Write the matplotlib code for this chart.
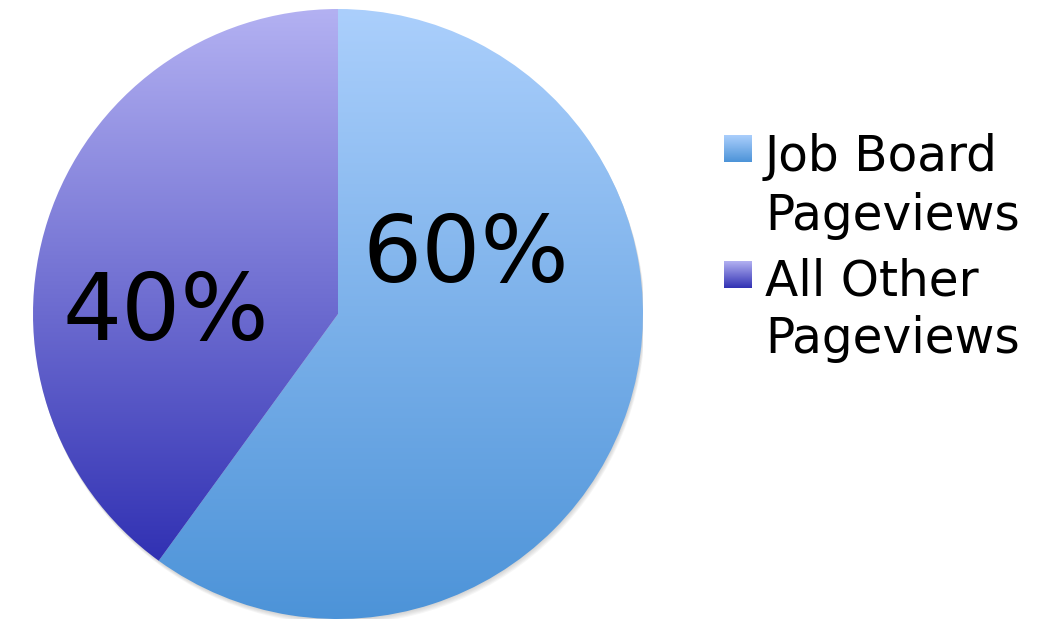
import numpy as np
import matplotlib.pyplot as plt
from matplotlib.patches import Circle
from matplotlib.colors import to_rgb

# share of pageviews
labels = ['Job Board\nPageviews', 'All Other\nPageviews']
values = [60, 40]
top_colors = ['#abcffc', '#b3b1f2']
bottom_colors = ['#4c93d8', '#3131b3']

W, H = 1044, 621


def gradient(top, bottom, n=256):
    t = np.linspace(0, 1, n)[:, None, None]
    a = np.array(to_rgb(top))[None, None, :]
    b = np.array(to_rgb(bottom))[None, None, :]
    return a * (1 - t) + b * t


fig = plt.figure(figsize=(W / 100, H / 100), dpi=100)

# pie axes, centre at (338, 314) px, radius 305 px
cx, cy, r = 338, 314, 305
ax = fig.add_axes([(cx - r) / W, (H - cy - r) / H, 2 * r / W, 2 * r / H])

# soft drop shadow, mostly below the pie
for k in range(5):
    off = 0.0035 * (k + 1)
    ax.add_patch(Circle((off * 0.4, -off), 1.0, color='gray', alpha=0.07,
                        lw=0, zorder=0))

wedges, _ = ax.pie(values, startangle=90, counterclock=False, radius=1,
                   colors=['none', 'none'], wedgeprops=dict(lw=0))

for w, c1, c2 in zip(wedges, top_colors, bottom_colors):
    verts = w.get_path().vertices
    ymin = verts[:, 1].min()
    img = ax.imshow(gradient(c1, c2), extent=[-1, 1, ymin, 1], origin='upper',
                    aspect='auto', zorder=1)
    img.set_clip_path(w)

# percentage labels
ax.text(0.42, 0.19, '{}%'.format(values[0]), fontsize=67, ha='center',
        va='center', zorder=3)
ax.text(-0.565, 0.0, '{}%'.format(values[1]), fontsize=67, ha='center',
        va='center', zorder=3)

ax.set_xlim(-1, 1)
ax.set_ylim(-1, 1)
ax.set_aspect('auto')
ax.axis('off')

# legend drawn in pixel coordinates
lg = fig.add_axes([0, 0, 1, 1], zorder=5)
lg.patch.set_alpha(0)
lg.axis('off')

square_tops = [135, 261]
baselines = [(171, 230), (295, 353)]
for i, lab in enumerate(labels):
    y0 = square_tops[i]
    lg.imshow(gradient(top_colors[i], bottom_colors[i]),
              extent=[724, 752, y0 + 27, y0], aspect='auto')
    for line, yb in zip(lab.split('\n'), baselines[i]):
        lg.text(765, yb, line, fontsize=35, va='baseline', ha='left')

lg.set_xlim(0, W)
lg.set_ylim(H, 0)

fig.savefig('out.png', dpi=100)
